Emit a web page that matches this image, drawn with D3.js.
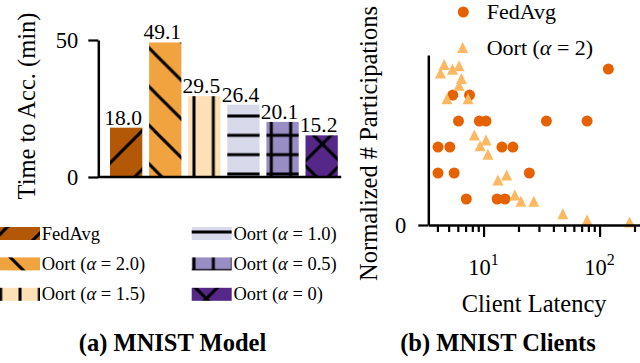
<!DOCTYPE html>
<html><head><meta charset="utf-8">
<script src="https://cdn.jsdelivr.net/npm/d3@7"></script>
<style>
body{margin:0;background:#fff}
svg{display:block}
</style></head><body>
<svg id="c" width="640" height="363"></svg>
<script>
// ---------- data ----------
const categories = ["FedAvg", "Oort (α = 2.0)", "Oort (α = 1.5)", "Oort (α = 1.0)", "Oort (α = 0.5)", "Oort (α = 0)"];
const timeToAcc = [18.0, 49.1, 29.5, 26.4, 20.1, 15.2];
const barColors = ["#b35806", "#f1a340", "#fee0b6", "#d8daeb", "#998ec3", "#542788"];
const hatches = ["/", "\\", "|", "-", "+", "x"];
const yTicksLeft = [0, 50];

const fedLatency = [119, 5.43, 7.57, 6.08, 9.19, 10.5, 34.8, 78, 4.05, 5.12, 14.4, 17.9, 4.05, 5.58, 24.8, 7.1, 13.1, 15.3];
const fedPart    = [6, 5, 5, 4, 4, 4, 4, 4, 3, 3, 3, 3, 2, 2, 2, 1, 1, 1];
const oortLatency = [4.58, 4.25, 5.4, 6.15, 6.44, 6.15, 4.84, 7.35, 8.33, 10.5, 9.33, 10.9, 13.3, 15.8, 18.6, 21, 27.1, 48.2, 78, 181];
const oortPart    = [6.17, 5.85, 5.99, 6.13, 5.64, 5.38, 4.86, 4.86, 3.46, 3.27, 3.05, 2.72, 1.73, 1.92, 1.15, 0.91, 0.91, 0.43, 0.19, 0.12];
const scatterSeries = ["FedAvg", "Oort (α = 2)"];
const scatterColors = ["#e66101", "#fdb863"];
const xMajorTicks = [10, 100];
const xMinorTicks = [4, 5, 6, 7, 8, 9, 20, 30, 40, 50, 60, 70, 80, 90, 200];
const yTicksRight = [0];

// ---------- layout ----------
const FONT = '"Liberation Serif", "DejaVu Serif", "Times New Roman", serif';
const svg = d3.select("#c").style("font-family", FONT);
const L = {left: 98.3, right: 341.2, top: 40, bottom: 177};
const R = {left: 428.3, right: 640, top: 55, bottom: 225};

const xL = d3.scaleBand().domain(categories).range([106.6, L.right]).paddingInner(0.174).paddingOuter(0.087);
const yL = d3.scaleLinear().domain([0, 50]).range([L.bottom, L.top]);
const xR = d3.scaleLog().domain([3.34, 223]).range([R.left, R.right]);
const yR = d3.scaleLinear().domain([0, 6.54]).range([R.bottom, R.top]);

// ---------- hatch patterns ----------
const defs = svg.append("defs");
const P = 19.33, D = 38.67;
function makePattern(id, color, hatch) {
  let size = P, ox = 0, oy = 0, paths = [];
  const vert = `M${P/2},0V${P}`, hor = `M0,${P/2}H${P}`;
  const ne = [`M${-D},${D}L${D},${-D}`, `M${-D},${2*D}L${2*D},${-D}`, `M0,${2*D}L${2*D},0`];
  const se = [`M${-D},${-D}L${2*D},${2*D}`, `M${-D},0L${D},${2*D}`, `M0,${-D}L${2*D},${D}`];
  if (hatch === "|") { ox = 194 - P/2; paths = [vert]; }
  if (hatch === "-") { oy = 174 - P/2; paths = [hor]; }
  if (hatch === "+") { ox = 194 - P/2; oy = 174 - P/2; paths = [vert, hor]; }
  if (hatch === "/") { size = D; ox = 2.3; paths = ne; }
  if (hatch === "\\") { size = D; oy = 15; paths = se; }
  if (hatch === "x") { size = D; ox = -6.35; oy = 8.65; paths = ne.concat(se); }
  const p = defs.append("pattern").attr("id", id).attr("patternUnits", "userSpaceOnUse")
    .attr("x", ox).attr("y", oy).attr("width", size).attr("height", size);
  p.append("rect").attr("width", size).attr("height", size).attr("fill", color);
  paths.forEach(d => p.append("path").attr("d", d).attr("stroke", "#000").attr("stroke-width", 3).attr("fill", "none"));
}
categories.forEach((c, i) => makePattern("hatch" + i, barColors[i], hatches[i]));

function txt(sel) { return sel.append("text").style("font-family", FONT).attr("fill", "#000"); }

// label writer with italic alpha
function writeLabel(t, name) {
  const parts = name.split("α");
  t.append("tspan").text(parts[0]);
  if (parts.length > 1) {
    t.append("tspan").attr("font-style", "italic").text("α");
    t.append("tspan").text(parts[1]);
  }
}

// ---------- left: bars ----------
svg.append("g").selectAll("rect").data(timeToAcc).join("rect")
  .attr("x", (d, i) => xL(categories[i]))
  .attr("width", xL.bandwidth())
  .attr("y", d => yL(d))
  .attr("height", d => yL(0) - yL(d))
  .attr("fill", (d, i) => `url(#hatch${i})`);

svg.append("g").selectAll("text").data(timeToAcc).join("text")
  .style("font-family", FONT)
  .attr("x", (d, i) => xL(categories[i]) + xL.bandwidth() / 2 - 3)
  .attr("y", d => yL(d) - 3)
  .attr("text-anchor", "middle")
  .attr("font-size", 21.5)
  .text(d => d.toFixed(1));

function styleAxis(g, fs) {
  g.attr("font-size", fs).attr("font-family", null);
  g.selectAll("text").style("font-family", FONT);
  g.selectAll("path.domain").attr("stroke-width", 2.5).attr("stroke", "#000");
  g.selectAll(".tick line").attr("stroke-width", 2.2).attr("stroke", "#000");
  g.selectAll(".tick text").attr("fill", "#000");
}

const gyL = svg.append("g").attr("transform", `translate(${L.left},0)`)
  .call(d3.axisLeft(yL).tickValues(yTicksLeft).tickFormat(d3.format("d")).tickSize(10).tickSizeOuter(0).tickPadding(10));
styleAxis(gyL, 22.5);
svg.append("line").attr("x1", L.left).attr("x2", L.right).attr("y1", yL(0)).attr("y2", yL(0))
  .attr("stroke", "#000").attr("stroke-width", 2.5);

txt(svg).attr("transform", `translate(35,106) rotate(-90)`)
  .attr("text-anchor", "middle").attr("font-size", 24.5).text("Time to Acc. (min)");

// left legend
const legCols = [0, 191.7], legRow0 = 233.5, legPitch = 30.4;
categories.forEach((c, i) => {
  const col = Math.floor(i / 3), row = i % 3;
  const cx = legCols[col], cy = legRow0 + row * legPitch;
  svg.append("rect").attr("x", cx).attr("y", cy - 6.5).attr("width", 40).attr("height", 13)
    .attr("fill", `url(#hatch${i})`);
  const t = txt(svg).attr("x", cx + 41.7).attr("y", cy + 6).attr("font-size", 18.5);
  writeLabel(t, c);
});

txt(svg).attr("x", 172.5).attr("y", 351).attr("text-anchor", "middle")
  .attr("font-size", 24.5).attr("font-weight", "bold").text("(a) MNIST Model");

// ---------- right: scatter ----------
const triPath = s => `M0,${-s/2}L${s/2},${s/2}L${-s/2},${s/2}Z`;

svg.append("g").selectAll("circle").data(fedLatency).join("circle")
  .attr("cx", d => xR(d)).attr("cy", (d, i) => yR(fedPart[i])).attr("r", 5.5)
  .attr("fill", scatterColors[0]);
svg.append("g").selectAll("path").data(oortLatency).join("path")
  .attr("transform", (d, i) => `translate(${xR(d)},${yR(oortPart[i])})`)
  .attr("d", triPath(11)).attr("fill", scatterColors[1]);

const gyR = svg.append("g").attr("transform", `translate(${R.left},0)`)
  .call(d3.axisLeft(yR).tickValues(yTicksRight).tickFormat(d3.format("d")).tickSize(10).tickSizeOuter(0).tickPadding(12));
styleAxis(gyR, 22.5);

const gxMin = svg.append("g").attr("transform", `translate(0,${R.bottom})`)
  .call(d3.axisBottom(xR).tickValues(xMinorTicks).tickSize(7).tickFormat(""));
gxMin.select("path.domain").remove();
styleAxis(gxMin, 10);
const gxMaj = svg.append("g").attr("transform", `translate(0,${R.bottom})`)
  .call(d3.axisBottom(xR).tickValues(xMajorTicks).tickSize(12).tickSizeOuter(0).tickFormat(""));
styleAxis(gxMaj, 10);
xMajorTicks.forEach(v => {
  const t = txt(svg).attr("x", xR(v)).attr("y", 275).attr("text-anchor", "middle").attr("font-size", 22.5);
  t.append("tspan").text("10");
  t.append("tspan").attr("font-size", 16).attr("dy", -10).text(String(Math.round(Math.log10(v))));
});

txt(svg).attr("transform", `translate(377,143.5) rotate(-90)`)
  .attr("text-anchor", "middle").attr("font-size", 24.5).text("Normalized # Participations");
txt(svg).attr("x", (R.left + R.right) / 2).attr("y", 311.5).attr("text-anchor", "middle")
  .attr("font-size", 24.5).text("Client Latency");

// scatter legend
const sLegY = [12, 47.5];
svg.append("circle").attr("cx", 463.3).attr("cy", sLegY[0]).attr("r", 5.5).attr("fill", scatterColors[0]);
svg.append("path").attr("transform", `translate(462.7,${sLegY[1]})`).attr("d", triPath(11)).attr("fill", scatterColors[1]);
scatterSeries.forEach((s, i) => {
  const t = txt(svg).attr("x", 486.7).attr("y", sLegY[i] + 7).attr("font-size", 22);
  writeLabel(t, s);
});

txt(svg).attr("x", 498).attr("y", 351).attr("text-anchor", "middle")
  .attr("font-size", 24.5).attr("font-weight", "bold").text("(b) MNIST Clients");
</script>
</body></html>
